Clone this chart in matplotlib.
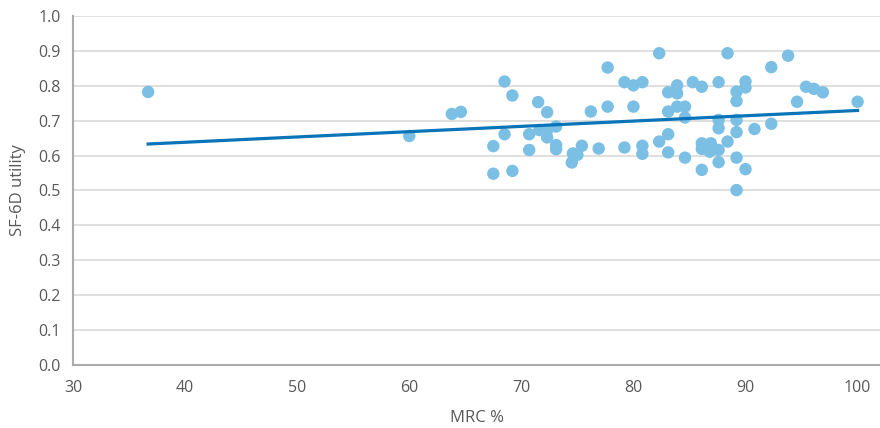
import numpy as np
import matplotlib.pyplot as plt

# MRC % vs SF-6D utility
mrc = [36.7, 60.0, 63.8, 64.6, 67.5, 67.5, 68.5, 68.5, 69.2, 69.2,
       70.7, 70.7, 71.5, 71.6, 72.3, 72.3, 72.3, 73.1, 73.1, 73.1,
       74.5, 74.6, 75.0, 75.4, 76.2, 76.9, 77.7, 77.7, 79.2, 79.2,
       80.0, 80.0, 80.8, 80.8, 80.8, 82.3, 82.3, 83.1, 83.1, 83.1,
       83.1, 83.9, 83.9, 83.9, 84.6, 84.6, 84.6, 85.3, 86.1, 86.1,
       86.1, 86.1, 86.9, 86.8, 87.6, 87.6, 87.6, 87.6, 87.6, 88.4,
       88.4, 89.2, 89.2, 89.2, 89.2, 89.2, 89.2, 90.0, 90.0, 90.0,
       90.8, 92.3, 92.3, 93.8, 94.6, 95.4, 96.1, 96.9, 100.0]
sf6d = [0.782, 0.656, 0.719, 0.725, 0.627, 0.548, 0.812, 0.661, 0.772, 0.556,
        0.661, 0.616, 0.753, 0.673, 0.724, 0.673, 0.652, 0.683, 0.630, 0.618,
        0.580, 0.606, 0.602, 0.628, 0.726, 0.620, 0.852, 0.740, 0.810, 0.623,
        0.801, 0.740, 0.810, 0.628, 0.605, 0.893, 0.640, 0.781, 0.726, 0.661,
        0.609, 0.801, 0.778, 0.740, 0.740, 0.709, 0.594, 0.810, 0.797, 0.635,
        0.619, 0.559, 0.635, 0.611, 0.810, 0.702, 0.678, 0.616, 0.581, 0.893,
        0.640, 0.783, 0.756, 0.702, 0.667, 0.594, 0.501, 0.812, 0.795, 0.561,
        0.676, 0.853, 0.691, 0.886, 0.754, 0.797, 0.791, 0.781, 0.754]

x = np.array(mrc)
y = np.array(sf6d)

plt.rcParams['font.family'] = ['Open Sans', 'DejaVu Sans']
text_col = '#595959'

fig = plt.figure(figsize=(8.8, 4.28), dpi=100)
ax = fig.add_axes([0.083, 0.147, 0.917, 0.816])

ax.scatter(x, y, s=80, color='#7bbfe4', edgecolors='none', zorder=3)

# linear trend line over the data range
b, a = np.polyfit(x, y, 1)
xs = np.array([x.min(), x.max()])
ax.plot(xs, a + b * xs, color='#0a74b9', lw=2.3, zorder=4)

ax.set_xlim(30, 102)
ax.set_ylim(0, 1.0)
ax.set_xticks(np.arange(30, 101, 10))
ax.set_yticks(np.arange(0, 1.01, 0.1))
ax.set_yticklabels([f'{v:.1f}' for v in np.arange(0, 1.01, 0.1)])
ax.grid(axis='y', color='#d9d9d9', lw=1.2, zorder=0)
ax.set_axisbelow(True)

for s in ['top', 'right']:
    ax.spines[s].set_visible(False)
for s in ['left', 'bottom']:
    ax.spines[s].set_color('#ababab')
    ax.spines[s].set_linewidth(1.5)

ax.tick_params(length=0, labelsize=11.5, colors=text_col)
ax.tick_params(axis='x', pad=11)
ax.tick_params(axis='y', pad=9)
ax.set_xlabel('MRC %', fontsize=12, color=text_col, labelpad=10)
ax.set_ylabel('SF-6D utility', fontsize=12, color=text_col, labelpad=9)

fig.savefig('out.png', dpi=100)
